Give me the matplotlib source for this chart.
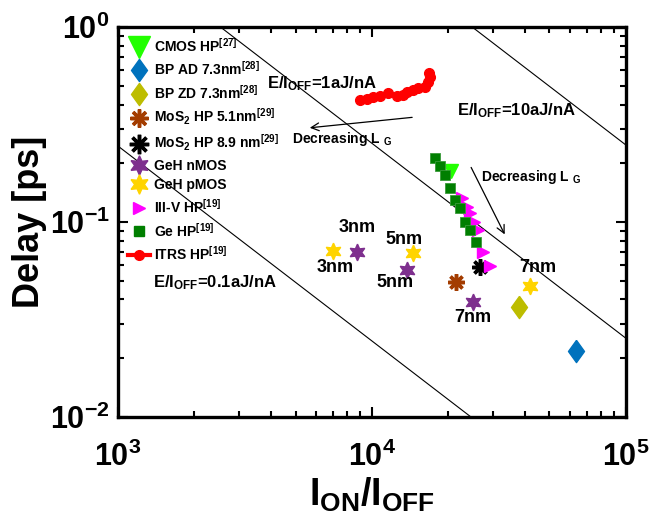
import numpy as np
import matplotlib
matplotlib.use('Agg')
import matplotlib.pyplot as plt
from matplotlib.lines import Line2D

plt.rcParams['font.family'] = ['Liberation Sans', 'DejaVu Sans']
plt.rcParams['font.weight'] = 'bold'
plt.rcParams['axes.labelweight'] = 'bold'
plt.rcParams['mathtext.fontset'] = 'custom'
plt.rcParams['mathtext.rm'] = 'Liberation Sans:bold'
plt.rcParams['mathtext.bf'] = 'Liberation Sans:bold'
plt.rcParams['mathtext.it'] = 'Liberation Sans:bold'
plt.rcParams['mathtext.default'] = 'bf'

# data (I_ON/I_OFF, delay in ps)
cmos_x = [20480]
cmos_y = [0.183]
bp_ad_x = [63550]
bp_ad_y = [0.0218]
bp_zd_x = [37900]
bp_zd_y = [0.0367]
mos2_51_x = [21410]
mos2_51_y = [0.0492]
mos2_89_x = [26610]
mos2_89_y = [0.0588]
geh_n_x = [8730, 13740, 24980]
geh_n_y = [0.0702, 0.0567, 0.0389]
geh_p_x = [7020, 14500, 41880]
geh_p_y = [0.0710, 0.0694, 0.0470]
iiiv_x = [22600, 23660, 24300, 25210, 26140, 27350, 29150]
iiiv_y = [0.133, 0.119, 0.111, 0.100, 0.091, 0.0702, 0.0595]
ge_x = [17700, 18530, 19380, 20280, 21220, 22200, 23230, 24300, 25650]
ge_y = [0.213, 0.194, 0.174, 0.149, 0.130, 0.118, 0.100, 0.0910, 0.0789]
itrs_x = [8970, 9550, 10090, 10740, 11560, 12540, 13240, 13740, 14500,
          15180, 16180, 16610, 16920, 16760]
itrs_y = [0.422, 0.427, 0.438, 0.443, 0.459, 0.443, 0.448, 0.464, 0.475,
          0.486, 0.492, 0.522, 0.554, 0.581]

# constant E/I_OFF lines: delay * (I_ON/I_OFF) along each line
energy_k = [245, 2530, 24800]
ratio_ends = [1e3, 1e5]

# node labels
node_text = ['3nm', '3nm', '5nm', '5nm', '7nm', '7nm']
node_x = [8730, 7140, 13360, 12330, 25000, 45100]
node_y = [0.0931, 0.0581, 0.0809, 0.0487, 0.0322, 0.0581]

# diamond marker, a bit wider than 'd'
diamond = [(0, 1), (0.72, 0), (0, -1), (-0.72, 0), (0, 1)]
star6 = (6, 1, 0)
aster = (8, 2, 0)

fig = plt.figure(figsize=(6.52, 5.29), dpi=100)
ax = fig.add_axes([0.181, 0.212, 0.779, 0.737])

for k in energy_k:
    ax.plot(ratio_ends, [k / r for r in ratio_ends], 'k-', lw=0.8, zorder=1)

ax.plot(cmos_x, cmos_y, ls='none', marker='v', ms=10, color='#22ff00')
ax.plot(bp_ad_x, bp_ad_y, ls='none', marker=diamond, ms=16, color='#0072bd')
ax.plot(bp_zd_x, bp_zd_y, ls='none', marker=diamond, ms=16, color='#bdbd00')
ax.plot(mos2_51_x, mos2_51_y, ls='none', marker=aster, ms=12, mew=2.5, color='#a33c00')
ax.plot(mos2_89_x, mos2_89_y, ls='none', marker=aster, ms=12, mew=2.5, color='k')
ax.plot(geh_n_x, geh_n_y, ls='none', marker=star6, ms=12, color='#7e2f8e')
ax.plot(geh_p_x, geh_p_y, ls='none', marker=star6, ms=12, color='#ffd400')
ax.plot(iiiv_x, iiiv_y, ls='none', marker='>', ms=9, color='#ff00ff')
ax.plot(ge_x, ge_y, ls='none', marker='s', ms=6.5, color='#007f00', mec='#3a9a3a', mew=0.6)
ax.plot(itrs_x, itrs_y, '-o', color='#ff0000', lw=3, ms=7)

# annotations
ax.text(3860, 0.487, r'E/I$_{OFF}$=1aJ/nA', fontsize=12, ha='left', va='baseline')
ax.text(21600, 0.354, r'E/I$_{OFF}$=10aJ/nA', fontsize=12, ha='left', va='baseline')
ax.text(1370, 0.0464, r'E/I$_{OFF}$=0.1aJ/nA', fontsize=12, ha='left', va='baseline')
ax.text(4840, 0.254, r'Decreasing L $_{G}$', fontsize=10, ha='left', va='baseline')
ax.text(26900, 0.162, r'Decreasing L $_{G}$', fontsize=10, ha='left', va='baseline')
ax.annotate('', xy=(5550, 0.303), xytext=(14760, 0.345),
            arrowprops=dict(arrowstyle='->', color='k', lw=0.9, mutation_scale=14))
ax.annotate('', xy=(33700, 0.0838), xytext=(24300, 0.196),
            arrowprops=dict(arrowstyle='->', color='k', lw=0.9, mutation_scale=14))
for t, x, y in zip(node_text, node_x, node_y):
    ax.text(x, y, t, fontsize=13, ha='center', va='center')

ax.set_xscale('log')
ax.set_yscale('log')
ax.set_xlim(1e3, 1e5)
ax.set_ylim(1e-2, 1)
ax.set_xticks([1e3, 1e4, 1e5])
ax.set_xticklabels([r'$10^{3}$', r'$10^{4}$', r'$10^{5}$'])
ax.set_yticks([1e-2, 1e-1, 1])
ax.set_yticklabels([r'$10^{-2}$', r'$10^{-1}$', r'$10^{0}$'])
ax.tick_params(which='both', direction='in', top=True, right=True, width=1.5, labelsize=22)
ax.tick_params(which='major', length=7)
ax.tick_params(which='minor', length=4)
ax.tick_params(axis='x', pad=18)
ax.tick_params(axis='y', pad=6)
for s in ax.spines.values():
    s.set_linewidth(2.4)

ax.set_xlabel(r'I$_{ON}$/I$_{OFF}$', fontsize=27, fontweight='bold', labelpad=2)
ax.set_ylabel('Delay [ps]', fontsize=26, fontweight='bold', labelpad=2)

handles = [
    Line2D([], [], ls='none', marker='v', ms=16, color='#22ff00'),
    Line2D([], [], ls='none', marker=diamond, ms=16, color='#0072bd'),
    Line2D([], [], ls='none', marker=diamond, ms=16, color='#bdbd00'),
    Line2D([], [], ls='none', marker=aster, ms=13, mew=2.5, color='#a33c00'),
    Line2D([], [], ls='none', marker=aster, ms=14, mew=2.5, color='k'),
    Line2D([], [], ls='none', marker=star6, ms=14, color='#7e2f8e'),
    Line2D([], [], ls='none', marker=star6, ms=14, color='#ffd400'),
    Line2D([], [], ls='none', marker='>', ms=8, color='#ff00ff'),
    Line2D([], [], ls='none', marker='s', ms=6.5, color='#007f00'),
    Line2D([], [], color='#ff0000', lw=3, marker='o', ms=7),
]
labels = [
    r'CMOS HP$^{[27]}$',
    r'BP AD 7.3nm$^{[28]}$',
    r'BP ZD 7.3nm$^{[28]}$',
    r'MoS$_{2}$ HP 5.1nm$^{[29]}$',
    r'MoS$_{2}$ HP 8.9 nm$^{[29]}$',
    'GeH nMOS',
    'GeH pMOS',
    r'III-V HP$^{[19]}$',
    r'Ge HP$^{[19]}$',
    r'ITRS HP$^{[19]}$',
]
ax.legend(handles, labels, loc='upper left', frameon=False, fontsize=10,
          handlelength=1.6, handletextpad=0.3, labelspacing=0.4,
          borderaxespad=0.3, borderpad=0.4)

fig.savefig('out.png', dpi=100)
